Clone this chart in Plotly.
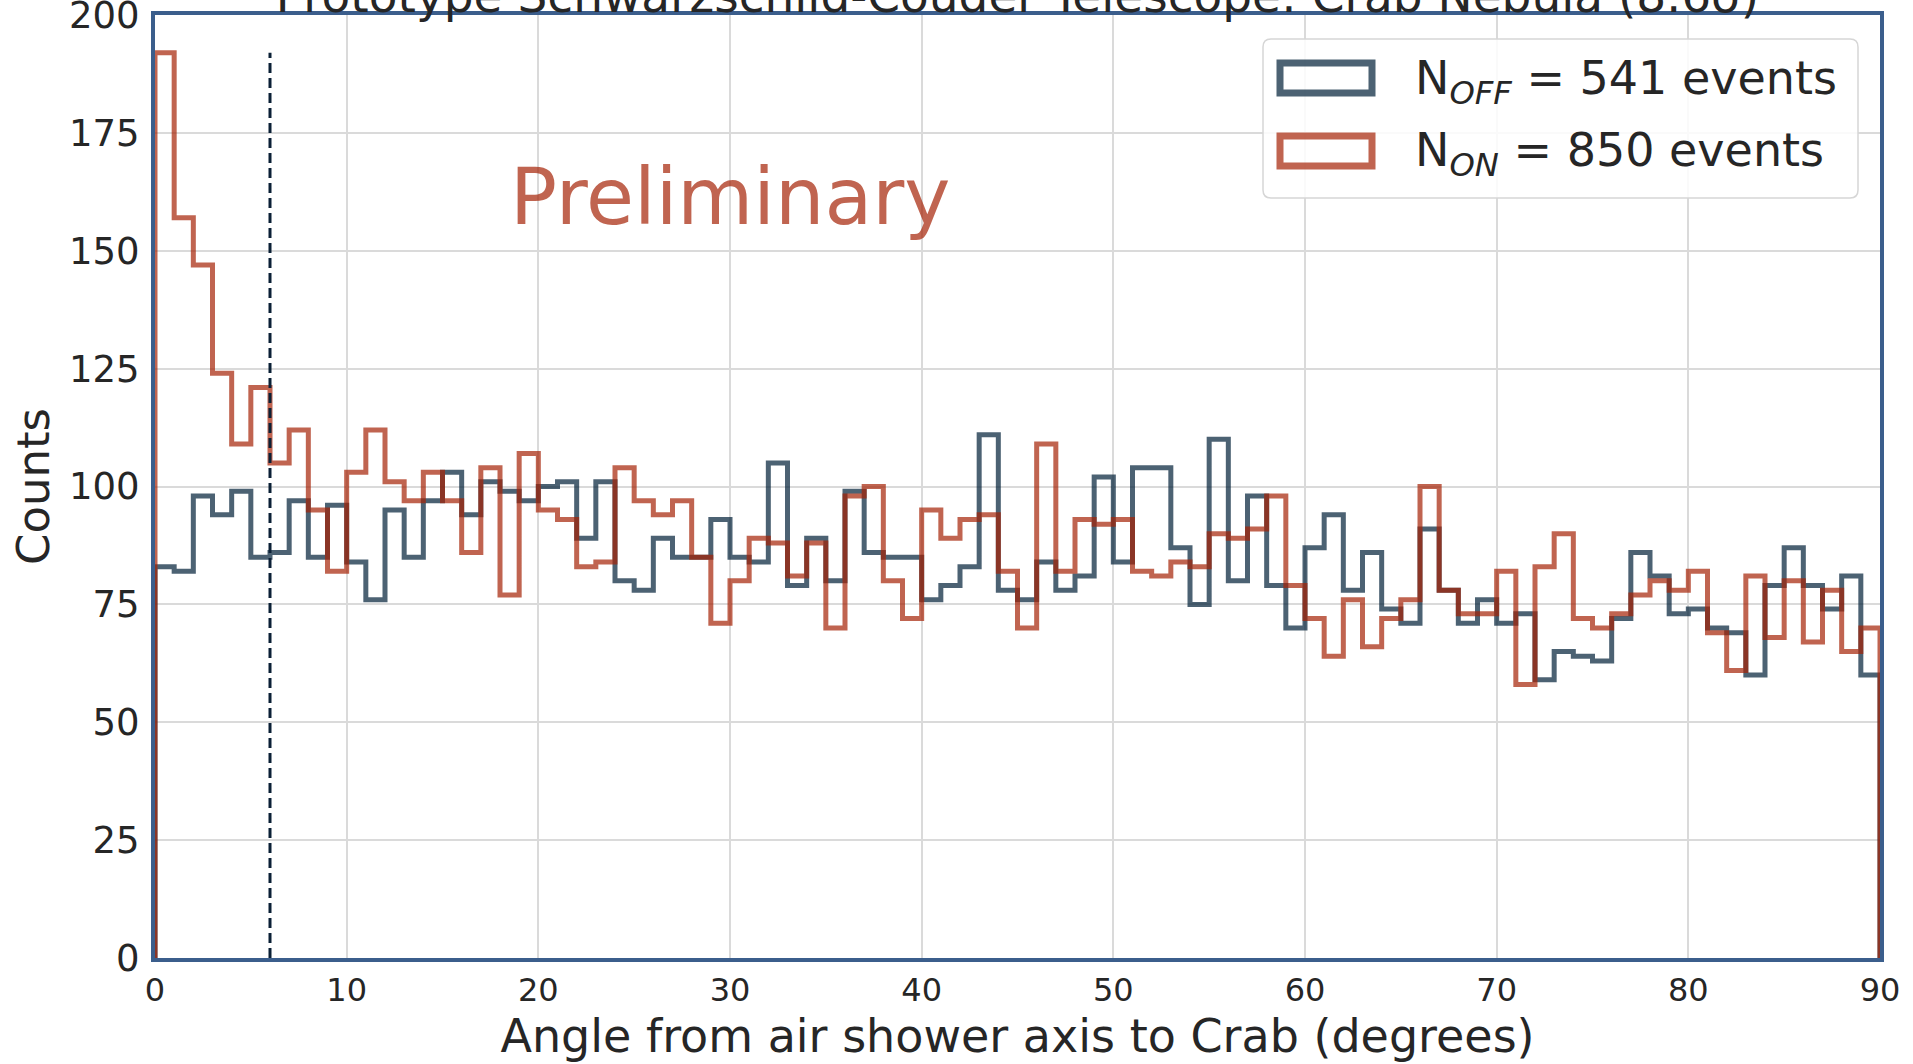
import numpy as np
import plotly.graph_objects as go

# 1-degree bins from 0 to 90 degrees
bin_edges = np.arange(0, 91, 1)

# OFF-source counts per bin
off_counts = [
    83, 82, 98, 94, 99, 85, 86, 97, 85, 96,
    84, 76, 95, 85, 97, 103, 94, 101, 99, 97,
    100, 101, 89, 101, 80, 78, 89, 85, 85, 93,
    85, 84, 105, 79, 89, 80, 99, 86, 85, 85,
    76, 79, 83, 111, 78, 76, 84, 78, 81, 102,
    84, 104, 104, 87, 75, 110, 80, 98, 79, 70,
    87, 94, 78, 86, 74, 71, 91, 78, 71, 76,
    71, 73, 59, 65, 64, 63, 72, 86, 81, 73,
    74, 70, 69, 60, 79, 87, 79, 74, 81, 60,
]

# ON-source counts per bin
on_counts = [
    192, 157, 147, 124, 109, 121, 105, 112, 95, 82,
    103, 112, 101, 97, 103, 97, 86, 104, 77, 107,
    95, 93, 83, 84, 104, 97, 94, 97, 85, 71,
    80, 89, 88, 81, 88, 70, 98, 100, 80, 72,
    95, 89, 93, 94, 82, 70, 109, 82, 93, 92,
    93, 82, 81, 84, 83, 90, 89, 91, 98, 79,
    72, 64, 76, 66, 72, 76, 100, 78, 73, 73,
    82, 58, 83, 90, 72, 70, 73, 77, 80, 78,
    82, 69, 61, 81, 68, 80, 67, 78, 65, 70,
]

theta_cut = 6.0
n_off_label = 541
n_on_label = 850
title_text = "Prototype Schwarzschild-Couder Telescope: Crab Nebula (8.6σ)"

x_ticks = list(range(0, 91, 10))
y_ticks = list(range(0, 201, 25))

OFF_COLOR = "rgba(0,32,55,0.7)"
ON_COLOR = "rgba(165,34,5,0.7)"
SPINE = "#3b5e8c"
TEXT = "#262626"
FONT = "DejaVu Sans"

W, H = 1913, 1064
ML, MR, MT, MB = 155, 33, 15, 106


def step_outline(edges, counts):
    """Closed step outline like a 'step' histogram: up from 0, across, down to 0."""
    edges = np.asarray(edges, dtype=float)
    counts = np.asarray(counts, dtype=float)
    xs = np.concatenate([[edges[0]], edges[:-1], [edges[-1]], [edges[-1]]])
    ys = np.concatenate([[0.0], counts, [counts[-1]], [0.0]])
    return xs, ys


fig = go.Figure()

x_off, y_off = step_outline(bin_edges, off_counts)
x_on, y_on = step_outline(bin_edges, on_counts)

fig.add_trace(go.Scatter(
    x=x_off, y=y_off, mode="lines", line=dict(color=OFF_COLOR, width=5, shape="hv"),
    showlegend=False, hoverinfo="skip",
))
fig.add_trace(go.Scatter(
    x=x_on, y=y_on, mode="lines", line=dict(color=ON_COLOR, width=5, shape="hv"),
    showlegend=False, hoverinfo="skip",
))

# signal-region cut
fig.add_trace(go.Scatter(
    x=[theta_cut, theta_cut], y=[0, max(on_counts)], mode="lines",
    line=dict(color="#0b2036", width=3, dash="10px,5px"),
    showlegend=False, hoverinfo="skip",
))

pw = W - ML - MR
ph = H - MT - MB


def px(xp):
    return (xp - ML) / pw


def py(yp):
    return (H - MB - yp) / ph


# legend frame with rounded corners
lx0, lx1, ly0, ly1, r = 1263, 1858, 39, 198, 8
path = (
    f"M {px(lx0 + r)} {py(ly0)} L {px(lx1 - r)} {py(ly0)} "
    f"Q {px(lx1)} {py(ly0)} {px(lx1)} {py(ly0 + r)} "
    f"L {px(lx1)} {py(ly1 - r)} Q {px(lx1)} {py(ly1)} {px(lx1 - r)} {py(ly1)} "
    f"L {px(lx0 + r)} {py(ly1)} Q {px(lx0)} {py(ly1)} {px(lx0)} {py(ly1 - r)} "
    f"L {px(lx0)} {py(ly0 + r)} Q {px(lx0)} {py(ly0)} {px(lx0 + r)} {py(ly0)} Z"
)
shapes = [dict(type="path", path=path, xref="paper", yref="paper",
               fillcolor="rgba(255,255,255,0.85)", line=dict(color="#d6d6d6", width=1.5))]

legend_rows = [
    (OFF_COLOR, f"N<sub><i>OFF</i></sub> = {n_off_label} events", 78),
    (ON_COLOR, f"N<sub><i>ON</i></sub> = {n_on_label} events", 151),
]
annotations = []
for color, label, yc in legend_rows:
    shapes.append(dict(
        type="rect", xref="paper", yref="paper",
        x0=px(1280), x1=px(1372), y0=py(yc - 15), y1=py(yc + 15),
        line=dict(color=color, width=7), fillcolor="rgba(0,0,0,0)",
    ))
    annotations.append(dict(
        x=px(1413), y=py(yc + 3), xref="paper", yref="paper", text=label,
        showarrow=False, xanchor="left", yanchor="middle",
        font=dict(family=FONT, size=46, color=TEXT),
    ))

annotations.append(dict(
    x=30, y=161.5, xref="x", yref="y", text="Preliminary", showarrow=False,
    xanchor="center", yanchor="middle",
    font=dict(family=FONT, size=78, color=ON_COLOR),
))

fig.update_layout(
    width=W, height=H, autosize=False,
    margin=dict(l=ML, r=MR, t=MT, b=MB, autoexpand=False),
    paper_bgcolor="white", plot_bgcolor="white",
    shapes=shapes, annotations=annotations,
    title=dict(text=title_text, x=0.5, xref="paper", y=1 - 12 / H, yref="container",
               xanchor="center", yanchor="bottom", automargin=False,
               font=dict(family=FONT, size=47, color=TEXT)),
    font=dict(family=FONT, color=TEXT),
)

fig.update_xaxes(
    range=[0, 90], tickvals=x_ticks, ticks="", showgrid=True, gridcolor="#dadada", gridwidth=1.5,
    showline=True, linecolor=SPINE, linewidth=4, mirror=True, zeroline=False,
    tickfont=dict(family=FONT, size=32, color=TEXT), ticklabelstandoff=1,
    ticklabeloverflow="allow", automargin=False,
    title=dict(text="Angle from air shower axis to Crab (degrees)",
               font=dict(family=FONT, size=46, color=TEXT), standoff=10),
)
fig.update_yaxes(
    range=[0, 200], tickvals=y_ticks, ticks="", showgrid=True, gridcolor="#dadada", gridwidth=1.5,
    showline=True, linecolor=SPINE, linewidth=4, mirror=True, zeroline=False,
    tickfont=dict(family=FONT, size=37, color=TEXT), ticklabelstandoff=4,
    ticklabeloverflow="allow", automargin=False,
    title=dict(text="Counts", font=dict(family=FONT, size=45, color=TEXT), standoff=6),
)

fig.write_html("out.html")
